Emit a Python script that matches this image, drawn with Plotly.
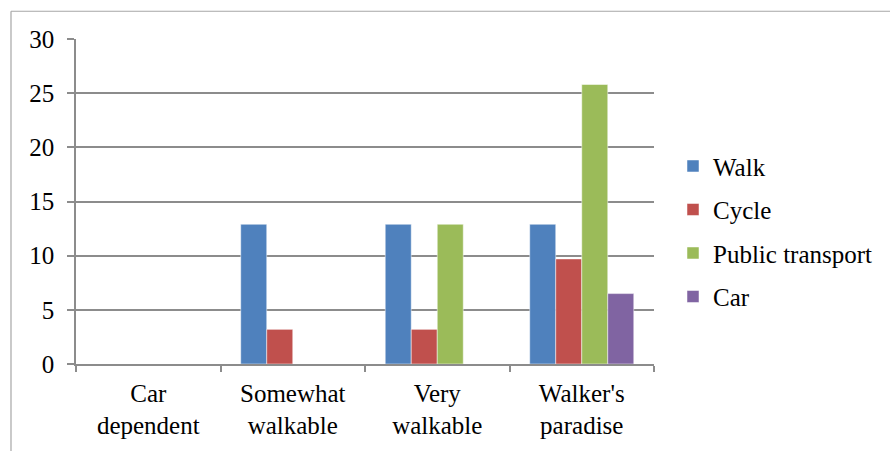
import plotly.graph_objects as go

categories = ["Car<br>dependent", "Somewhat<br>walkable", "Very<br>walkable", "Walker's<br>paradise"]
walk = [None, 12.9, 12.9, 12.9]
cycle = [None, 3.2, 3.2, 9.7]
public_transport = [None, None, 12.9, 25.8]
car = [None, None, None, 6.5]

series = [
    ("Walk", walk, "#4F81BD"),
    ("Cycle", cycle, "#C0504D"),
    ("Public transport", public_transport, "#9BBB59"),
    ("Car", car, "#8064A2"),
]

FONT = "Times New Roman, Liberation Serif, DejaVu Serif, serif"
FS = 25
GRID = "#8c8c8c"

fig = go.Figure()
for i, (name, vals, col) in enumerate(series):
    fig.add_trace(go.Bar(
        x=categories, y=vals, name=name, legendgroup=name,
        marker=dict(color=col, line=dict(color="rgba(255,255,255,0.7)", width=0.7)),
    ))

W, H = 890, 451
L, R, T, B = 76, 654, 39, 367
pw, ph = R - L, B - T

def px(x):
    return (x - L) / pw

def py(y):
    return (B - y) / ph

fig.update_layout(
    width=W, height=H,
    margin=dict(l=L, r=W - R, t=T, b=H - B),
    paper_bgcolor="white", plot_bgcolor="white",
    barmode="group", bargap=0.28, bargroupgap=0,
    font=dict(family=FONT, size=FS, color="black"),
    legend=dict(x=px(673), y=py(233), xanchor="left", yanchor="middle",
                traceorder="grouped", tracegroupgap=8,
                font=dict(family=FONT, size=FS, color="black")),
    xaxis=dict(showline=True, linecolor=GRID, linewidth=1.5,
               ticks="outside", tickson="boundaries", ticklen=6, tickcolor=GRID, tickwidth=1.5,
               ticklabelstandoff=6,
               tickfont=dict(family=FONT, size=FS, color="black"), showgrid=False),
    yaxis=dict(range=[0, 30], tickvals=[0, 5, 10, 15, 20, 25, 30], showgrid=True,
               gridcolor=GRID, gridwidth=1.5, showline=True, linecolor=GRID, linewidth=1.5,
               ticks="outside", ticklen=7, tickcolor=GRID, tickwidth=1.5, zeroline=False,
               ticklabelstandoff=8,
               tickfont=dict(family=FONT, size=FS, color="black")),
    shapes=[
        dict(type="line", xref="paper", yref="paper", x0=px(11), x1=px(892), y0=py(11), y1=py(11),
             line=dict(color="#a6a6a6", width=1.2)),
        dict(type="line", xref="paper", yref="paper", x0=px(11), x1=px(11), y0=py(11), y1=py(455),
             line=dict(color="#a6a6a6", width=1.2)),
    ],
)

fig.write_html("out.html", config={"displayModeBar": False},
               post_script="document.body.style.margin='0';document.body.style.overflow='hidden';")
